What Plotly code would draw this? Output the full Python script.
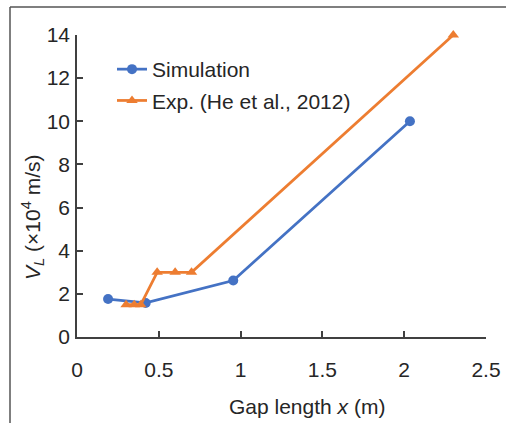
import plotly.graph_objects as go

# Data
sim_x = [0.19, 0.42, 0.955, 2.035]
sim_y = [1.76, 1.58, 2.62, 10.0]
exp_x = [0.30, 0.35, 0.39, 0.49, 0.60, 0.70, 2.30]
exp_y = [1.5, 1.5, 1.5, 3.0, 3.0, 3.0, 14.0]
x_ticks = [0, 0.5, 1, 1.5, 2, 2.5]
x_tick_labels = ["0", "0.5", "1", "1.5", "2", "2.5"]
y_ticks = [0, 2, 4, 6, 8, 10, 12, 14]

BLUE = "#4472C4"
ORANGE = "#ED7D31"
TXT = "#262626"
AX = "#404040"
FONT = "Liberation Sans, Arial, sans-serif"
FS = 21

fig = go.Figure()
fig.add_trace(go.Scatter(
    x=sim_x, y=sim_y, mode="lines+markers", name="Simulation",
    line=dict(color=BLUE, width=2.75),
    marker=dict(symbol="circle", size=10, color=BLUE),
    cliponaxis=False, legendgroup="a"))
fig.add_trace(go.Scatter(
    x=exp_x, y=exp_y, mode="lines+markers", name="Exp. (He et al., 2012)",
    line=dict(color=ORANGE, width=2.75),
    marker=dict(symbol="triangle-up", size=10, color=ORANGE),
    cliponaxis=False, legendgroup="b"))

L, R, T, B = 77, 20, 35, 86
W, H = 506, 423
pw, ph = W - L - R, H - T - B

def px_x(px):
    return (px - L) / pw

def px_y(py):
    return (H - B - py) / ph

fig.update_layout(
    width=W, height=H,
    margin=dict(l=L, r=R, t=T, b=B, autoexpand=False),
    paper_bgcolor="white", plot_bgcolor="white",
    font=dict(family=FONT, size=FS, color=TXT),
    showlegend=True,
    legend=dict(x=px_x(112), y=px_y(49), xanchor="left", yanchor="top",
                bgcolor="rgba(0,0,0,0)", tracegroupgap=1,
                font=dict(family=FONT, size=FS, color=TXT)),
    xaxis=dict(range=[0, 2.5], tickvals=x_ticks, ticktext=x_tick_labels,
               showgrid=False, zeroline=False, showline=True,
               linecolor=AX, linewidth=1.5, ticks="inside", ticklen=6,
               tickcolor=AX, tickwidth=1.5, ticklabelstandoff=13,
               automargin=False,
               tickfont=dict(family=FONT, size=FS, color=TXT)),
    yaxis=dict(range=[0, 14], tickvals=y_ticks,
               showgrid=False, zeroline=False, showline=True,
               linecolor=AX, linewidth=1.5, ticks="inside", ticklen=6,
               tickcolor=AX, tickwidth=1.5, ticklabelstandoff=1,
               automargin=False,
               tickfont=dict(family=FONT, size=FS, color=TXT)),
    annotations=[
        dict(text="Gap length <i>x</i> (m)", xref="paper", yref="paper",
             x=px_x(307), y=px_y(406), showarrow=False,
             xanchor="center", yanchor="middle",
             font=dict(family=FONT, size=FS, color=TXT)),
        dict(text="<i>V</i><sub><i>L</i></sub> (×10<sup>4</sup> m/s)",
             xref="paper", yref="paper", textangle=-90,
             x=px_x(32), y=px_y(218), showarrow=False,
             xanchor="center", yanchor="middle",
             font=dict(family=FONT, size=FS, color=TXT)),
    ],
    shapes=[
        dict(type="line", xref="paper", yref="paper",
             x0=px_x(10), x1=px_x(10), y0=px_y(7), y1=px_y(430),
             line=dict(color="#555555", width=1.5)),
        dict(type="line", xref="paper", yref="paper",
             x0=px_x(10), x1=px_x(510), y0=px_y(7), y1=px_y(7),
             line=dict(color="#555555", width=1.5)),
    ],
)

fig.write_html("out.html")
